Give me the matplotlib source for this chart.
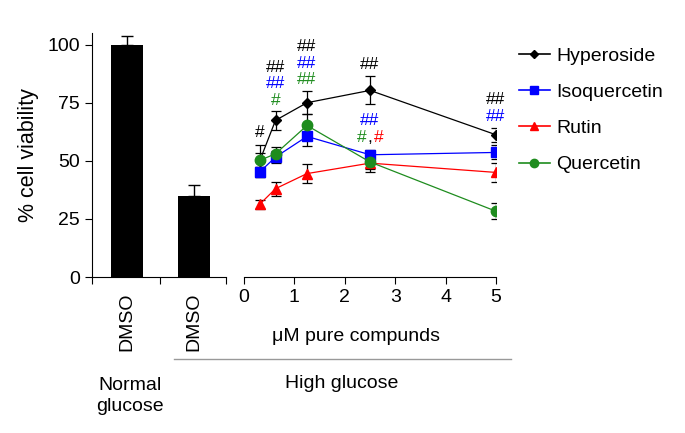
import matplotlib.pyplot as plt
from matplotlib.lines import Line2D

plt.rcParams['font.family'] = ['Liberation Sans', 'DejaVu Sans']

# bar part (DMSO controls)
bar_labels = ["DMSO", "DMSO"]
bar_values = [100, 35]
bar_err = [3.7, 4.5]

# dose-response part
doses = [0.3125, 0.625, 1.25, 2.5, 5]
hyperoside = [50, 67.4, 75, 80.3, 61.2]
hyperoside_err = [7, 4, 5, 6, 3]
isoquercetin = [45.2, 51.6, 60.5, 52.6, 53.6]
isoquercetin_err = [2, 2.5, 4, 2, 3]
rutin = [31.3, 38, 44.5, 49, 45]
rutin_err = [2, 3, 4, 4, 4]
quercetin = [50.2, 53, 65.2, 49.5, 28.3]
quercetin_err = [3, 3, 5, 3, 3.5]

GREEN = "#1e8c1e"
series = [
    ("Hyperoside", hyperoside, hyperoside_err, "black", "D", 5),
    ("Isoquercetin", isoquercetin, isoquercetin_err, "#0000ff", "s", 6.5),
    ("Rutin", rutin, rutin_err, "#ff0000", "^", 7),
    ("Quercetin", quercetin, quercetin_err, GREEN, "o", 7.5),
]

# significance marks: (dose, value, text, colour)
marks = [
    (0.3125, 62, "#", "black"),
    (0.625, 90.2, "##", "black"), (0.625, 83.4, "##", "#0000ff"), (0.625, 76, "#", GREEN),
    (1.25, 99, "##", "black"), (1.25, 92, "##", "#0000ff"), (1.25, 84.8, "##", GREEN),
    (2.5, 91.3, "##", "black"), (2.5, 67.4, "##", "#0000ff"),
    (5, 76.4, "##", "black"), (5, 69.2, "##", "#0000ff"),
]

FS = 14
fig = plt.figure(figsize=(6.85, 4.33), dpi=100)
W, H = 685, 433
ymax = 105

ax1 = fig.add_axes([92 / W, (H - 277) / H, 134 / W, 244 / H])
ax1.bar([0, 1], bar_values, width=0.48, color="black", zorder=2)
ax1.errorbar([0, 1], bar_values, yerr=[[0, 0], bar_err], fmt="none",
             ecolor="black", elinewidth=1, capsize=4, capthick=1)
ax1.set_xlim(-0.52, 1.48)
ax1.set_ylim(0, ymax)
ax1.set_yticks([0, 25, 50, 75, 100])
ax1.set_xticks([-0.52, 0.5, 1.48])
ax1.set_xticklabels([])
ax1.tick_params(labelsize=FS, length=5, width=0.8, direction="out")
for s in ["top", "right"]:
    ax1.spines[s].set_visible(False)
for s in ["left", "bottom"]:
    ax1.spines[s].set_linewidth(0.8)
ax1.set_ylabel("% cell viability", fontsize=15.5, labelpad=6)
for i, lab in enumerate(bar_labels):
    ax1.text(i, -0.065, lab, rotation=90, ha="center", va="top",
             fontsize=FS, transform=ax1.get_xaxis_transform())

ax2 = fig.add_axes([244 / W, (H - 277) / H, 252 / W, 244 / H])
for name, vals, err, col, mk, ms in series:
    ax2.plot(doses, vals, color=col, lw=0.9, marker=mk, ms=ms, zorder=3)
    ax2.errorbar(doses, vals, yerr=err, fmt="none", ecolor="black",
                 elinewidth=0.9, capsize=3.5, capthick=0.9, zorder=2)
for x, y, t, c in marks:
    ax2.text(x, y, t, color=c, ha="center", va="center", fontsize=12.5)
ax2.annotate("#", (2.5, 60.2), xytext=(-2.5, 0), textcoords="offset points",
             ha="right", va="center", color=GREEN, fontsize=12.5)
ax2.annotate(",", (2.5, 60.2), ha="center", va="center", color="black", fontsize=12.5)
ax2.annotate("#", (2.5, 60.2), xytext=(2.5, 0), textcoords="offset points",
             ha="left", va="center", color="#ff0000", fontsize=12.5)
ax2.set_xlim(0, 5)
ax2.set_ylim(0, ymax)
ax2.set_xticks([0, 1, 2, 3, 4, 5])
ax2.set_yticks([])
ax2.tick_params(labelsize=FS, length=5, width=0.8, direction="out")
for s in ["top", "right", "left"]:
    ax2.spines[s].set_visible(False)
ax2.spines["bottom"].set_linewidth(0.8)
ax2.set_xlabel("\u03bcM pure compunds", fontsize=FS)
ax2.xaxis.set_label_coords(0.445, -0.245)
ax2.xaxis.label.set_verticalalignment("center")

handles = [Line2D([], [], color=col, lw=1.2, marker=mk, ms=ms * 0.8)
           for name, vals, err, col, mk, ms in series]
fig.legend(handles, [s[0] for s in series], loc="upper left",
           bbox_to_anchor=(501 / W, 1 - 30 / H), frameon=False, fontsize=FS,
           handlelength=1.6, handletextpad=0.35, labelspacing=0.95)

fig.add_artist(Line2D([174 / W, 511 / W], [1 - 359 / H, 1 - 359 / H],
                      color="#999999", lw=1))
fig.text(342 / W, 1 - 383 / H, "High glucose", ha="center", va="center", fontsize=FS)
fig.text(130 / W, 1 - 396 / H, "Normal\nglucose", ha="center", va="center",
         fontsize=FS, linespacing=1.35)

fig.savefig("out.png", dpi=100)
